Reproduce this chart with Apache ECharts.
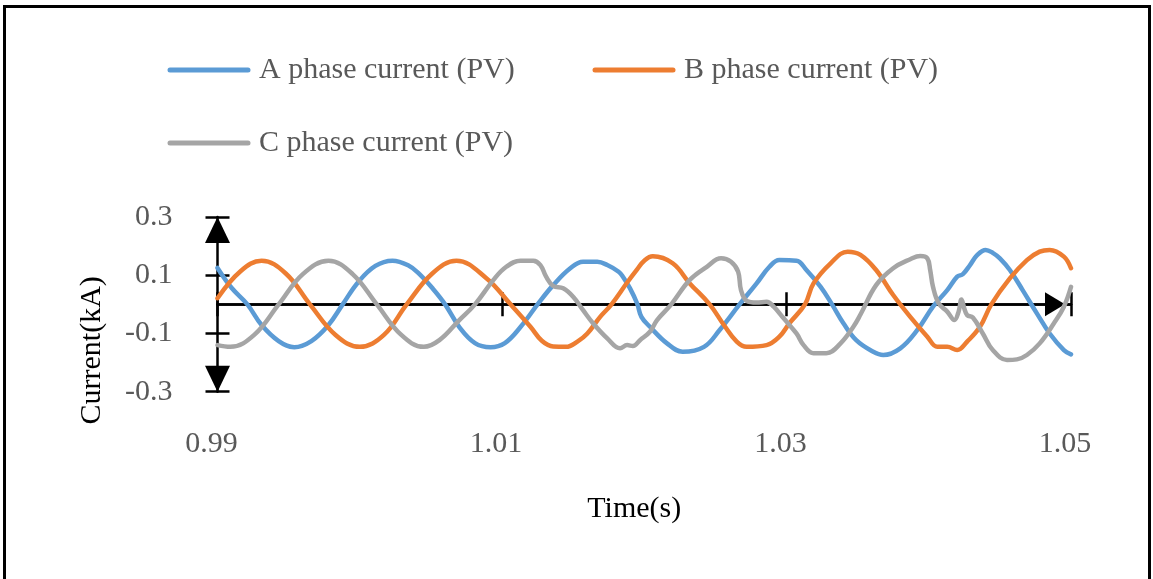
<!DOCTYPE html>
<html><head><meta charset="utf-8">
<script src="https://cdn.jsdelivr.net/npm/echarts@6/dist/echarts.min.js"></script>
<style>html,body{margin:0;padding:0;background:#fff}#c{width:1153px;height:579px}</style>
</head><body><div id="c"></div>
<script>
const seriesNames = ['A phase current (PV)', 'B phase current (PV)', 'C phase current (PV)'];
const seriesColors = ['#5B9BD5', '#ED7D31', '#A5A5A5'];
const xTickLabels = ['0.99', '1.01', '1.03', '1.05'];
const yTickLabels = ['-0.3', '-0.1', '0.1', '0.3'];
const xTitle = 'Time(s)';
const yTitle = 'Current(kA)';

// [time (s), current (kA)]
const phaseA = [
  [0.9900, 0.125], [0.9910, 0.056], [0.9921, 0.000], [0.9931, -0.071], [0.9943, -0.126],
  [0.9954, -0.147], [0.9966, -0.126], [0.9978, -0.071], [0.9988, 0.000], [0.9999, 0.077],
  [1.0011, 0.132], [1.0023, 0.150], [1.0034, 0.134], [1.0042, 0.104], [1.0051, 0.056],
  [1.0060, 0.000], [1.0070, -0.078], [1.0081, -0.133], [1.0092, -0.147], [1.0102, -0.133],
  [1.0113, -0.078], [1.0125, 0.000], [1.0136, 0.066], [1.0148, 0.124], [1.0157, 0.146],
  [1.0167, 0.146], [1.0174, 0.135], [1.0182, 0.112], [1.0185, 0.095], [1.0190, 0.055],
  [1.0195, 0.003], [1.0198, -0.043], [1.0204, -0.077], [1.0216, -0.134], [1.0227, -0.163],
  [1.0242, -0.146], [1.0253, -0.088], [1.0267, 0.000], [1.0279, 0.072], [1.0288, 0.129],
  [1.0295, 0.152], [1.0307, 0.150], [1.0314, 0.118], [1.0324, 0.060], [1.0332, 0.000],
  [1.0340, -0.065], [1.0349, -0.123], [1.0361, -0.163], [1.0368, -0.174], [1.0380, -0.151],
  [1.0392, -0.088], [1.0403, -0.008], [1.0413, 0.049], [1.0420, 0.095], [1.0424, 0.104],
  [1.0429, 0.135], [1.0434, 0.169], [1.0440, 0.187], [1.0445, 0.177], [1.0450, 0.158],
  [1.0457, 0.118], [1.0466, 0.049], [1.0476, -0.031], [1.0485, -0.100], [1.0495, -0.157],
  [1.0500, -0.172]
];
const phaseB = [
  [0.9900, 0.021], [0.9916, 0.113], [0.9931, 0.150], [0.9948, 0.106], [0.9965, 0.000],
  [0.9983, -0.105], [1.0000, -0.146], [1.0017, -0.105], [1.0033, 0.000], [1.0051, 0.106],
  [1.0068, 0.150], [1.0089, 0.090], [1.0106, 0.000], [1.0120, -0.077], [1.0128, -0.125],
  [1.0136, -0.145], [1.0145, -0.146], [1.0153, -0.128], [1.0160, -0.100], [1.0169, -0.043],
  [1.0177, 0.000], [1.0188, 0.075], [1.0195, 0.120], [1.0200, 0.150], [1.0206, 0.165],
  [1.0220, 0.141], [1.0232, 0.072], [1.0246, 0.000], [1.0256, -0.071], [1.0265, -0.128],
  [1.0272, -0.146], [1.0286, -0.140], [1.0295, -0.111], [1.0302, -0.065], [1.0313, 0.000],
  [1.0319, 0.072], [1.0331, 0.141], [1.0343, 0.181], [1.0352, 0.170], [1.0363, 0.118],
  [1.0375, 0.032], [1.0387, -0.043], [1.0399, -0.111], [1.0406, -0.146], [1.0413, -0.146],
  [1.0420, -0.157], [1.0427, -0.128], [1.0436, -0.077], [1.0444, 0.000], [1.0457, 0.089],
  [1.0469, 0.152], [1.0478, 0.181], [1.0485, 0.187], [1.0495, 0.164], [1.0500, 0.124]
];
const phaseC = [
  [0.9900, -0.140], [0.9909, -0.146], [0.9926, -0.104], [0.9943, 0.000], [0.9960, 0.104],
  [0.9978, 0.150], [0.9995, 0.104], [1.0012, 0.000], [1.0029, -0.104], [1.0045, -0.146],
  [1.0056, -0.123], [1.0070, -0.054], [1.0081, 0.000], [1.0094, 0.084], [1.0103, 0.129],
  [1.0113, 0.150], [1.0122, 0.150], [1.0127, 0.135], [1.0131, 0.095], [1.0136, 0.063],
  [1.0143, 0.055], [1.0150, 0.026], [1.0157, -0.020], [1.0164, -0.065], [1.0174, -0.117],
  [1.0183, -0.151], [1.0188, -0.140], [1.0192, -0.143], [1.0197, -0.123], [1.0204, -0.094],
  [1.0209, -0.054], [1.0219, 0.000], [1.0232, 0.084], [1.0244, 0.129], [1.0254, 0.158],
  [1.0261, 0.146], [1.0266, 0.112], [1.0268, 0.049], [1.0272, 0.012], [1.0279, 0.006],
  [1.0286, 0.009], [1.0291, -0.008], [1.0298, -0.048], [1.0307, -0.100], [1.0312, -0.140],
  [1.0319, -0.168], [1.0328, -0.168], [1.0338, -0.134], [1.0347, -0.077], [1.0352, -0.035],
  [1.0363, 0.066], [1.0375, 0.124], [1.0387, 0.155], [1.0394, 0.166], [1.0399, 0.158],
  [1.0401, 0.118], [1.0403, 0.060], [1.0407, 0.003], [1.0413, -0.025], [1.0418, -0.054],
  [1.0421, -0.025], [1.0423, 0.017], [1.0425, -0.014], [1.0427, -0.037], [1.0431, -0.045],
  [1.0438, -0.100], [1.0445, -0.157], [1.0455, -0.191], [1.0462, -0.189], [1.0469, -0.174],
  [1.0478, -0.134], [1.0488, -0.065], [1.0495, -0.008], [1.0500, 0.060]
];
const allPhases = [phaseA, phaseB, phaseC];

const font = "'Liberation Serif', 'Times New Roman', serif";
const xMin = parseFloat(xTickLabels[0]), xMax = parseFloat(xTickLabels[xTickLabels.length - 1]);
const xStep = +(parseFloat(xTickLabels[1]) - xMin).toFixed(4);
const yMin = parseFloat(yTickLabels[0]), yMax = parseFloat(yTickLabels[yTickLabels.length - 1]);
const yStep = +(parseFloat(yTickLabels[1]) - yMin).toFixed(4);

const chart = echarts.init(document.getElementById('c'), null, {renderer: 'canvas'});
const axisBlack = {color: '#000', width: 2.5};
const legendCommon = {
  orient: 'horizontal', itemWidth: 78, itemHeight: 14, padding: 0, selectedMode: false,
  textStyle: {fontSize: 30, color: '#595959', fontFamily: font, padding: [0, 0, 0, 6]},
  lineStyle: {width: 5, cap: 'round'},
  itemStyle: {opacity: 0, borderWidth: 0}
};
const baseX = {type: 'value', min: xMin, max: xMax, interval: xStep, gridIndex: 0, splitLine: {show: false}};
const baseY = {type: 'value', min: yMin, max: yMax, interval: yStep, gridIndex: 0, splitLine: {show: false}};

chart.setOption({
  animation: false,
  backgroundColor: '#fff',
  grid: {left: 217.5, right: 82, top: 217, bottom: 187.3, containLabel: false, outerBoundsMode: 'none'},
  legend: [
    Object.assign({left: 167.5, top: 55, data: [seriesNames[0]]}, legendCommon),
    Object.assign({left: 592.5, top: 55, data: [seriesNames[1]]}, legendCommon),
    Object.assign({left: 167.5, top: 128, data: [seriesNames[2]]}, legendCommon)
  ],
  xAxis: [
    Object.assign({}, baseX, {
      position: 'bottom',
      axisLine: {show: false, onZero: false},
      axisTick: {show: false},
      axisLabel: {margin: 37, fontSize: 30, color: '#595959', fontFamily: font, padding: [0, 12, 0, 0],
        formatter: v => v.toFixed(2)},
      name: xTitle, nameLocation: 'middle', nameGap: 102, nameMoveOverlap: false,
      nameTextStyle: {fontSize: 30, color: '#000', fontFamily: font, padding: [0, 20, 0, 0]}
    }),
    Object.assign({}, baseX, {
      position: 'bottom',
      axisLine: {show: true, onZero: true, onZeroAxisIndex: 0, lineStyle: axisBlack,
        symbol: ['none', 'triangle'], symbolSize: [24, 20], symbolOffset: [0, -16]},
      axisTick: {show: true, inside: true, length: 12, lineStyle: axisBlack},
      axisLabel: {show: false}
    }),
    Object.assign({}, baseX, {
      position: 'bottom',
      axisLine: {show: true, onZero: true, onZeroAxisIndex: 0, lineStyle: axisBlack},
      axisTick: {show: true, inside: false, length: 12, lineStyle: axisBlack},
      axisLabel: {show: false}
    })
  ],
  yAxis: [
    Object.assign({}, baseY, {
      position: 'left',
      axisLine: {show: true, onZero: false, lineStyle: axisBlack,
        symbol: ['triangle', 'triangle'], symbolSize: [25, 26], symbolOffset: [13, -13]},
      axisTick: {show: true, inside: false, length: 12, lineStyle: axisBlack},
      axisLabel: {margin: 45, fontSize: 30, color: '#595959', fontFamily: font,
        formatter: v => v.toFixed(1)},
      name: yTitle, nameLocation: 'middle', nameGap: 110, nameMoveOverlap: false,
      nameTextStyle: {fontSize: 30, color: '#000', fontFamily: font, padding: [0, 92, 0, 0]}
    }),
    Object.assign({}, baseY, {
      position: 'left',
      axisLine: {show: false, onZero: false},
      axisTick: {show: true, inside: true, length: 12, lineStyle: axisBlack},
      axisLabel: {show: false}
    })
  ],
  graphic: [{
    type: 'rect', silent: true, z: -10,
    shape: {x: 4.5, y: 6.5, width: 1145, height: 640},
    style: {fill: 'none', stroke: '#000', lineWidth: 3}
  }],
  series: allPhases.map((d, i) => ({
    type: 'line', name: seriesNames[i], data: d, xAxisIndex: 0, yAxisIndex: 0,
    showSymbol: false, symbol: 'none', smooth: 0.4, z: 3,
    lineStyle: {color: seriesColors[i], width: 4.5, cap: 'round', join: 'round'},
    itemStyle: {color: seriesColors[i]}
  }))
});
</script></body></html>
